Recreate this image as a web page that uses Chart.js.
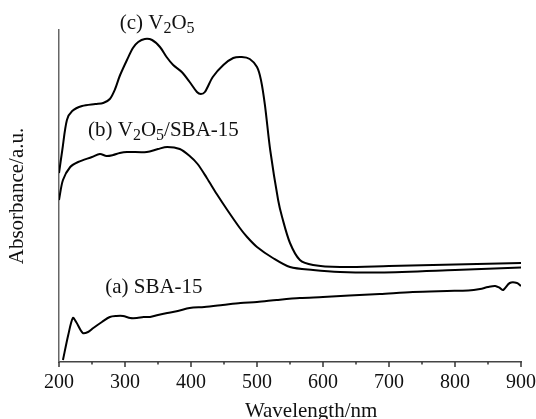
<!DOCTYPE html>
<html>
<head>
<meta charset="utf-8">
<script src="https://cdn.jsdelivr.net/npm/chart.js@4"></script>
<style>
  body { margin: 0; background: #fff; }
  canvas { display: block; }
</style>
</head>
<body>
<canvas id="uvChart" width="536" height="419"></canvas>
<script>
// UV-vis spectra (absorbance in arbitrary units)
var wlC = [200, 205, 212, 220, 235, 255, 267, 277, 285, 292, 303, 312, 320, 330, 341, 353, 363, 373, 386, 398, 409, 415, 421, 433, 449, 464, 477, 489, 500, 506, 512, 520, 532, 538, 550, 565, 585, 626, 700, 800, 900];
var absC = [1.89, 2.12, 2.42, 2.51, 2.56, 2.58, 2.59, 2.63, 2.73, 2.86, 3.02, 3.14, 3.20, 3.23, 3.22, 3.15, 3.05, 2.97, 2.90, 2.80, 2.70, 2.68, 2.70, 2.85, 2.97, 3.04, 3.05, 3.03, 2.95, 2.82, 2.57, 2.12, 1.62, 1.45, 1.19, 1.02, 0.97, 0.95, 0.96, 0.975, 0.99];

var wlB = [200, 206, 217, 229, 250, 262, 272, 282, 292, 303, 333, 350, 364, 383, 398, 410, 424, 439, 455, 474, 485, 500, 524, 550, 585, 626, 686, 800, 900];
var absB = [1.62, 1.82, 1.95, 2.00, 2.05, 2.08, 2.06, 2.07, 2.09, 2.10, 2.10, 2.13, 2.15, 2.13, 2.06, 1.98, 1.84, 1.68, 1.52, 1.34, 1.25, 1.15, 1.04, 0.95, 0.92, 0.90, 0.895, 0.92, 0.945];

var wlA = [206, 214, 221, 226, 236, 244, 252, 265, 277, 287, 297, 308, 318, 328, 338, 350, 364, 380, 398, 420, 448, 475, 500, 530, 565, 600, 640, 686, 736, 788, 820, 838, 850, 861, 868, 873, 883, 894, 900];
var absA = [0.02, 0.27, 0.44, 0.40, 0.29, 0.30, 0.34, 0.40, 0.45, 0.46, 0.46, 0.44, 0.44, 0.45, 0.45, 0.47, 0.49, 0.51, 0.54, 0.55, 0.57, 0.59, 0.60, 0.62, 0.64, 0.65, 0.665, 0.68, 0.70, 0.71, 0.715, 0.73, 0.75, 0.76, 0.74, 0.72, 0.79, 0.79, 0.76];

var xTicks = [200, 300, 400, 500, 600, 700, 800, 900];

function toPoints(xs, ys) {
    return xs.map(function (x, i) { return { x: x, y: ys[i] }; });
}

var serif = 'Liberation Serif';

// curve labels with subscripts: [text, isSub] pieces, anchored at wavelength / absorbance
var curveLabels = [
    { x: 292, y: 3.33, parts: [['(c) V', 0], ['2', 1], ['O', 0], ['5', 1]] },
    { x: 244, y: 2.26, parts: [['(b) V', 0], ['2', 1], ['O', 0], ['5', 1], ['/SBA-15', 0]] },
    { x: 270, y: 0.69, parts: [['(a) SBA-15', 0]] }
];

var decorPlugin = {
    id: 'decor',
    afterDraw: function (chart) {
        var ctx = chart.ctx;
        var xs = chart.scales.x, ys = chart.scales.y;
        ctx.save();
        // outward tick marks, long on hundreds
        ctx.strokeStyle = '#333';
        ctx.lineWidth = 1.5;
        xs.ticks.forEach(function (t) {
            var px = xs.getPixelForValue(t.value);
            var len = t.value % 100 === 0 ? 5 : 2.5;
            ctx.beginPath();
            ctx.moveTo(px, xs.top);
            ctx.lineTo(px, xs.top + len);
            ctx.stroke();
        });
        // labels next to the curves
        ctx.fillStyle = '#111';
        ctx.textBaseline = 'alphabetic';
        ctx.textAlign = 'left';
        curveLabels.forEach(function (lab) {
            var px = xs.getPixelForValue(lab.x);
            var py = ys.getPixelForValue(lab.y);
            lab.parts.forEach(function (p) {
                ctx.font = (p[1] ? '16px ' : '21px ') + serif;
                ctx.fillText(p[0], px, py + (p[1] ? 4 : 0));
                px += ctx.measureText(p[0]).width;
            });
        });
        // x axis title sits right of centre in the original
        ctx.font = '21px ' + serif;
        ctx.textAlign = 'center';
        ctx.fillText('Wavelength/nm', xs.getPixelForValue(582), chart.height - 2);
        ctx.restore();
    }
};

function lineSet(xs, ys) {
    return {
        data: toPoints(xs, ys),
        borderColor: '#000',
        borderWidth: 2,
        pointRadius: 0,
        fill: false,
        tension: 0.3
    };
}

function createSpectraChart() {
    var ctx = document.getElementById('uvChart').getContext('2d');
    new Chart(ctx, {
        type: 'line',
        data: { datasets: [lineSet(wlC, absC), lineSet(wlB, absB), lineSet(wlA, absA)] },
        plugins: [decorPlugin],
        options: {
            responsive: false,
            animation: false,
            layout: { padding: { top: 30, right: 0, left: 0, bottom: 0 } },
            plugins: { legend: { display: false }, tooltip: { enabled: false } },
            scales: {
                x: {
                    type: 'linear',
                    min: 200,
                    max: 900,
                    afterFit: function (s) { s.height = 57; s.paddingRight = 15; },
                    grid: { display: false, drawTicks: false },
                    border: { display: true, color: '#444', width: 1.5 },
                    ticks: {
                        stepSize: 50,
                        autoSkip: false,
                        maxRotation: 0,
                        padding: 9,
                        color: '#111',
                        font: { family: serif, size: 20 },
                        callback: function (v) { return xTicks.indexOf(v) >= 0 ? String(v) : ''; }
                    },
                    title: { display: false }
                },
                y: {
                    min: 0,
                    max: 3.32,
                    afterFit: function (s) { s.width = 59; },
                    grid: { display: false, drawTicks: false },
                    border: { display: true, color: '#666', width: 1.5 },
                    ticks: { display: false },
                    title: {
                        display: true,
                        text: 'Absorbance/a.u.',
                        color: '#111',
                        padding: 0,
                        font: { family: serif, size: 21, lineHeight: '34px' }
                    }
                }
            }
        }
    });
}

createSpectraChart();
</script>
</body>
</html>
